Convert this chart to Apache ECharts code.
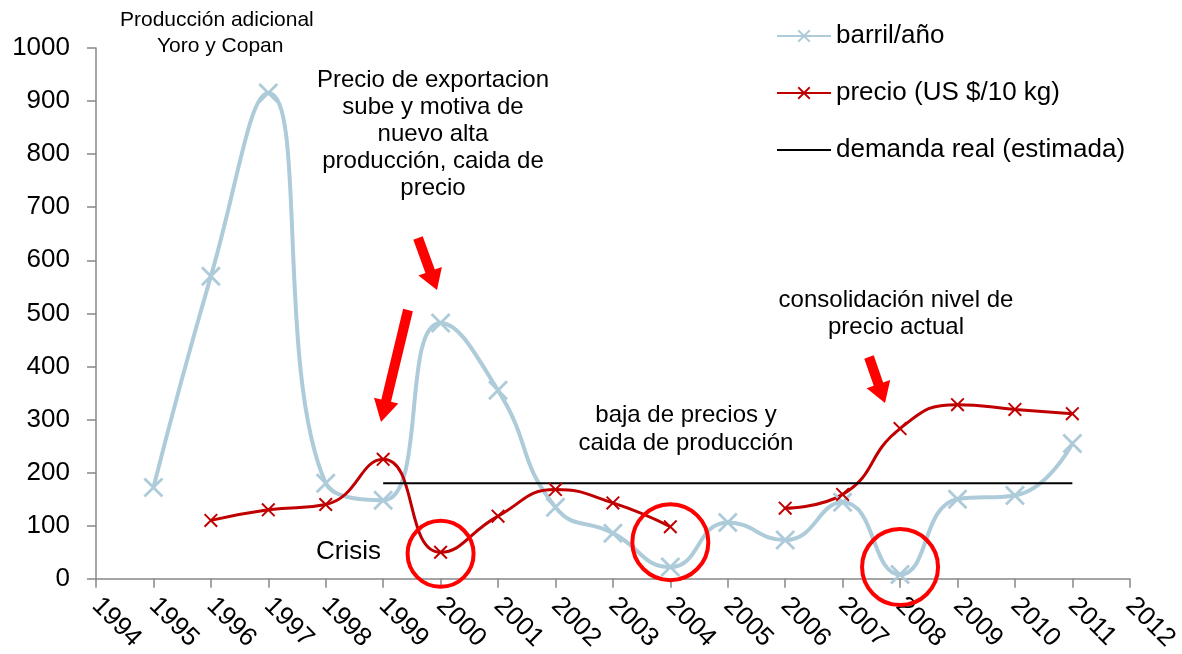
<!DOCTYPE html>
<html>
<head>
<meta charset="utf-8">
<script src="https://cdn.jsdelivr.net/npm/echarts@6/dist/echarts.min.js"></script>
<style>
  html, body { margin: 0; padding: 0; background: #fff; }
  #chart { width: 1182px; height: 654px; }
</style>
</head>
<body>
<div id="chart"></div>
<script>
// years on the x axis
const years = [1995, 1996, 1997, 1998, 1999, 2000, 2001, 2002, 2003, 2004, 2005, 2006, 2007, 2008, 2009, 2010, 2011];
const barriles = [172, 570, 915, 180, 148, 482, 355, 135, 86, 22, 106, 73, 144, 8, 150, 157, 255];
const precios = [null, 110, 130, 140, 225, 50, 118, 168, 143, 98, null, 133, 159, 283, 328, 319, 311];
const demandaYears = [1999, 2011];
const demandaValues = [180, 180];
const seriesNames = ["barril/año", "precio (US $/10 kg)", "demanda real (estimada)"];

// circled points [year, value, size]
const circles = [[2000, 47, 66], [2004, 69, 76], [2008, 22, 76]];

const FONT = "Liberation Sans, Arial, sans-serif";
const crossPath = "path://M0,2L2,0L20,18L18,20Z M18,0L20,2L2,20L0,18Z";

const chart = echarts.init(document.getElementById("chart"));

function pairs(xs, ys) {
  return xs.map((x, i) => [x, ys[i]]);
}

function arrow(x1, y1, x2, y2, shaftW, headW, headL) {
  const dx = x2 - x1, dy = y2 - y1;
  const len = Math.sqrt(dx * dx + dy * dy);
  const ux = dx / len, uy = dy / len;
  const px = -uy, py = ux;
  const bx = x2 - ux * headL, by = y2 - uy * headL;
  return {
    type: "polygon",
    shape: {
      points: [
        [x1 + px * shaftW / 2, y1 + py * shaftW / 2],
        [bx + px * shaftW / 2, by + py * shaftW / 2],
        [bx + px * headW / 2, by + py * headW / 2],
        [x2, y2],
        [bx - px * headW / 2, by - py * headW / 2],
        [bx - px * shaftW / 2, by - py * shaftW / 2],
        [x1 - px * shaftW / 2, y1 - py * shaftW / 2]
      ]
    },
    style: { fill: "#FF0000" },
    z: 10
  };
}

function note(lines, cx, top, size, lh) {
  return {
    type: "text",
    x: cx, y: top,
    style: {
      text: lines.join("\n"),
      font: size + "px " + FONT,
      fill: "#000",
      align: "center",
      verticalAlign: "top",
      lineHeight: lh
    },
    z: 10
  };
}

chart.setOption({
  animation: false,
  textStyle: { fontFamily: FONT, color: "#000" },
  grid: { left: 96, right: 51, top: 48, bottom: 75 },
  legend: {
    left: 771, top: 16, orient: "vertical",
    itemWidth: 54, itemHeight: 16, itemGap: 27,
    data: [
      { name: seriesNames[0] },
      { name: seriesNames[1] },
      { name: seriesNames[2], itemStyle: { opacity: 0 } }
    ],
    textStyle: { fontSize: 26, lineHeight: 30, color: "#000", fontFamily: FONT }
  },
  xAxis: {
    type: "value", min: 1994, max: 2012, interval: 1,
    splitLine: { show: false },
    axisLine: { lineStyle: { color: "#888", width: 1.5 } },
    axisTick: { show: true, length: 9, lineStyle: { color: "#888", width: 1.5 } },
    axisLabel: { rotate: -45, margin: 23, fontSize: 26, color: "#000", formatter: v => String(v) }
  },
  yAxis: {
    type: "value", min: 0, max: 1000, interval: 100,
    splitLine: { show: false },
    axisLine: { show: true, lineStyle: { color: "#888", width: 1.5 } },
    axisTick: { show: true, length: 9, lineStyle: { color: "#888", width: 1.5 } },
    axisLabel: { margin: 26, fontSize: 26, color: "#000", formatter: v => String(v) }
  },
  series: [
    {
      name: seriesNames[0], type: "line", smooth: 0.5,
      data: pairs(years, barriles),
      symbol: crossPath, symbolSize: 20,
      lineStyle: { color: "#AECBDA", width: 4 },
      itemStyle: { color: "#AECBDA" }
    },
    {
      name: seriesNames[1], type: "line", smooth: 0.5, connectNulls: false,
      data: pairs(years, precios),
      symbol: crossPath, symbolSize: 14,
      lineStyle: { color: "#C00000", width: 3 },
      itemStyle: { color: "#C00000" },
      markPoint: {
        symbol: "circle",
        label: { show: false },
        itemStyle: { color: "rgba(0,0,0,0)", borderColor: "#FF0000", borderWidth: 4 },
        data: circles.map(c => ({ coord: [c[0], c[1]], symbolSize: c[2] }))
      }
    },
    {
      name: seriesNames[2], type: "line",
      data: pairs(demandaYears, demandaValues),
      symbol: "none",
      lineStyle: { color: "#000", width: 2 },
      itemStyle: { color: "#000" }
    }
  ],
  graphic: [
    { type: "text", left: 120, top: 10, style: { text: "Producción adicional", font: "21px " + FONT, fill: "#000" }, z: 10 },
    { type: "text", left: 157, top: 36, style: { text: "Yoro y Copan", font: "21px " + FONT, fill: "#000" }, z: 10 },
    note(["Precio de exportacion", "sube y motiva de", "nuevo alta", "producción, caida de", "precio"], 433, 67, 24, 27),
    note(["baja de precios y", "caida de producción"], 686, 401, 24, 28),
    note(["consolidación nivel de", "precio actual"], 896, 287, 24, 27),
    { type: "text", left: 316, top: 539, style: { text: "Crisis", font: "26px " + FONT, fill: "#000" }, z: 10 },
    arrow(418, 238, 437, 290, 10, 25, 20),
    arrow(408, 310, 381, 422, 10, 25, 22),
    arrow(869, 357, 885, 403, 10, 25, 20)
  ]
});
</script>
</body>
</html>
